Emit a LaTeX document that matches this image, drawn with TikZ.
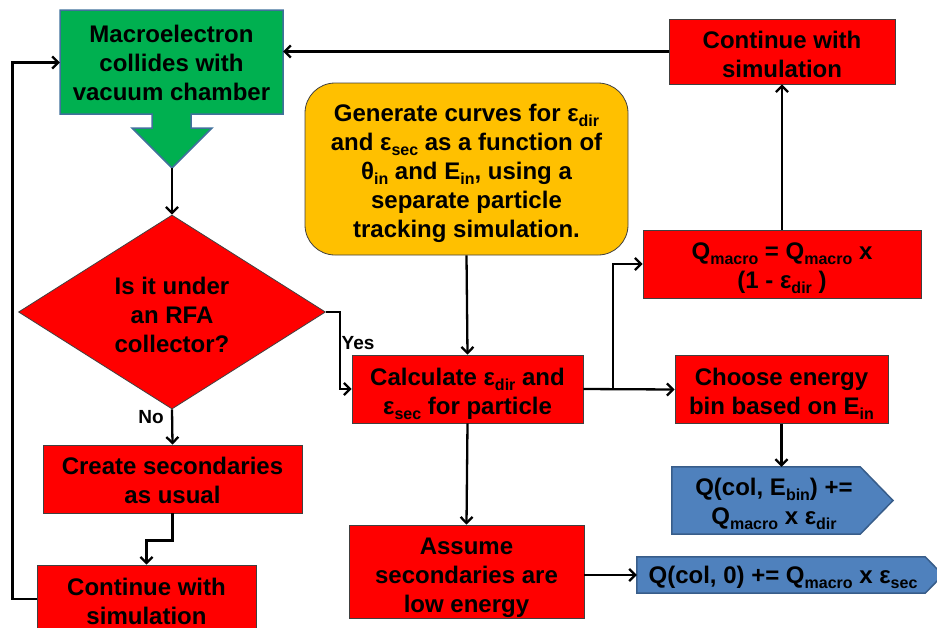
\documentclass[tikz,border=0pt]{standalone}
\usepackage{fontspec}
\setmainfont{Liberation Sans}
\usetikzlibrary{arrows.meta,shapes.geometric}
\definecolor{boxred}{HTML}{FF0000}
\definecolor{boxgreen}{HTML}{00B050}
\definecolor{greenedge}{HTML}{41719C}
\definecolor{boxyellow}{HTML}{FFC000}
\definecolor{boxblue}{HTML}{4F81BD}
\definecolor{blueedge}{HTML}{385D8A}
\newcommand\subx[1]{\raisebox{-5pt}{\fontsize{16}{16}\selectfont #1}}
\begin{document}
\begin{tikzpicture}[x=1pt,y=-1pt,
  bigfont/.style={font=\bfseries\fontsize{24}{29}\selectfont},
  box/.style={draw=black!75, line width=0.8pt, fill=boxred, inner sep=0pt},
  txt/.style={align=center, bigfont, inner sep=0pt},
  lbl/.style={font=\bfseries\fontsize{19}{22}\selectfont, inner sep=0pt},
  conn/.style={line width=2.3pt, black},
  arr/.style={conn, -{Straight Barb[length=6pt,width=12pt]}},
  decision/.style={shape=diamond, draw=black!75, line width=0.8pt, fill=boxred, minimum width=307pt, minimum height=194pt, inner sep=0pt},
  pent/.style={fill=boxblue, draw=blueedge, line width=1.5pt, line join=miter}
]
\useasboundingbox (0,0) rectangle (937,627);
\clip (0,0) rectangle (937,627);

% green box with arrow outline
\draw[fill=boxgreen, draw=greenedge, line width=1.5pt]
  (60,10) -- (283,10) -- (283,114) -- (191,114) -- (191,128) -- (212,128) -- (172,168)
  -- (132,128) -- (152,128) -- (152,114) -- (60,114) -- cycle;
\node[txt, minimum width=223pt, minimum height=104pt] (green) at (171.5,62.5) {Macroelectron\\collides with\\vacuum chamber};
\coordinate (greentip) at (172,168);

% decision
\node[decision] (dec) at (172,312) {};
\node[txt] (dectxt) at (172,315) {Is it under\\an RFA\\collector?};

% boxes
\node[box, minimum width=259pt, minimum height=68pt] (create) at (172.5,479) {};
\node[txt, yshift=-1pt] (createtxt) at (create) {Create secondaries\\as usual};
\node[box, minimum width=219pt, minimum height=68pt] (contL) at (146.5,599) {};
\node[txt, yshift=-2pt] (contLtxt) at (contL) {Continue with\\simulation};
\node[box, minimum width=226pt, minimum height=65pt] (contT) at (782,51.5) {};
\node[txt, yshift=-3pt] (contTtxt) at (contT) {Continue with\\simulation};
\node[box, fill=boxyellow, draw=black!75, rounded corners=30pt, minimum width=323pt, minimum height=172pt] (yellow) at (466.5,169) {};
\node[txt, yshift=-4pt] (yellowtxt) at (yellow)
  {Generate curves for ε\subx{dir}\\and ε\subx{sec} as a function of\\θ\subx{in} and E\subx{in}, using a\\separate particle\\tracking simulation.};
\node[box, minimum width=231pt, minimum height=68pt] (calc) at (467.5,389) {};
\node[txt, yshift=-4.5pt] (calctxt) at (calc) {Calculate ε\subx{dir} and\\ε\subx{sec} for particle};
\node[box, minimum width=278pt, minimum height=68pt] (qmac) at (782,264) {};
\node[txt, yshift=-4pt] (qmactxt) at (qmac) {Q\subx{macro} = Q\subx{macro} x\\(1 - ε\subx{dir} )};
\node[box, minimum width=213pt, minimum height=68pt] (choose) at (781.5,389.5) {};
\node[txt, yshift=-4pt] (choosetxt) at (choose) {Choose energy\\bin based on E\subx{in}};
\node[box, minimum width=235pt, minimum height=93pt] (assume) at (466.5,571.5) {};
\node[txt, yshift=-6pt] (assumetxt) at (assume) {Assume\\secondaries are\\low energy};

% blue pentagons
\node[minimum width=188pt, minimum height=67pt, inner sep=0pt] (p1) at (766,500.5) {};
\draw[pent] (p1.north west) -- (p1.north east) -- (893,500.5) -- (p1.south east) -- (p1.south west) -- cycle;
\node[txt] (p1txt) at (774,504) {Q(col, E\subx{bin}) +=\\Q\subx{macro} x ε\subx{dir}};
\node[minimum width=288pt, minimum height=36pt, inner sep=0pt] (p2) at (781,575) {};
\draw[pent] (p2.north west) -- (p2.north east) -- (943,575) -- (p2.south east) -- (p2.south west) -- cycle;
\node[txt] (p2txt) at (783,577) {Q(col, 0) += Q\subx{macro} x ε\subx{sec}};

% connectors
\draw[arr] (greentip) -- (dec.north);
\draw[arr] (dec.east) -- ++(14,0) |- (calc.west);
\node[lbl] (yes) at (358,343) {Yes};
\draw[arr] (dec.south) -- (create.north);
\node[lbl] (no) at (151,417) {No};
\draw[arr] (create.south) -- ++(0,27) -| (contL.north);
\draw[arr] (contL.west) -- ++(-24,0) |- (green.west);
\draw[arr] (contT.west) -- (green.east |- contT.west);
\draw[arr] (qmac.north) -- (contT.south);
\draw[arr] (yellow.south) -- (calc.north);
\coordinate (br) at (613,389);
\draw[arr] (calc.east) -- (choose.west);
\draw[arr] (br) |- (qmac.west);
\draw[arr] (choose.south) -- (p1.north -| choose.south);
\draw[arr] (calc.south) -- (assume.north);
\draw[arr] (assume.east |- p2.west) -- (p2.west);
\end{tikzpicture}
\end{document}
